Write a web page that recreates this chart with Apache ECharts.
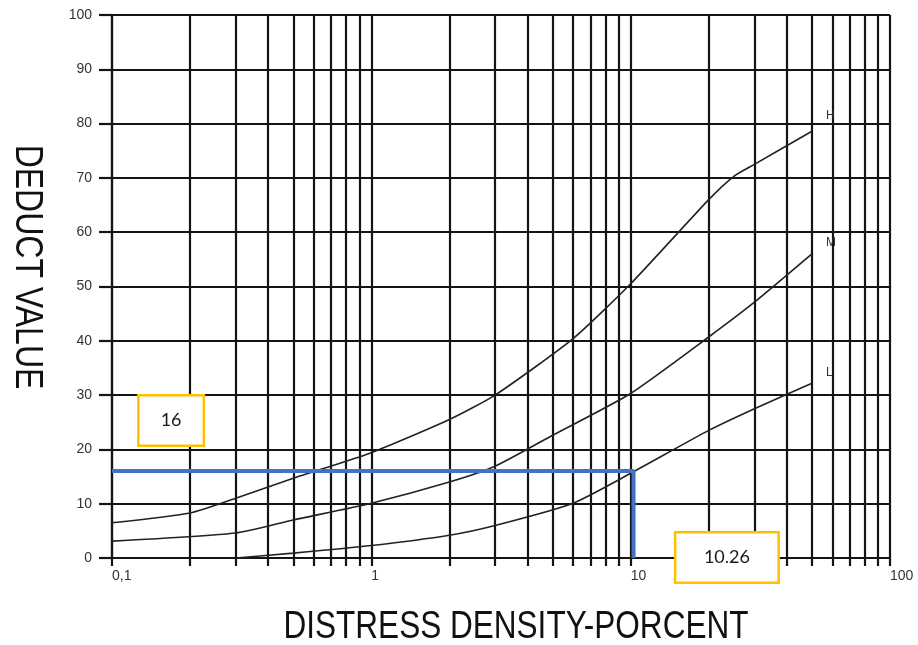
<!DOCTYPE html>
<html>
<head>
<meta charset="utf-8">
<title>Deduct value curves</title>
<script src="https://cdn.jsdelivr.net/npm/echarts@6/dist/echarts.min.js"></script>
<style>
  html, body { margin: 0; padding: 0; background: #fff; }
  #chart { width: 918px; height: 645px; }
</style>
</head>
<body>
<div id="chart"></div>
<script>
// Distress density (%) on a log axis, deduct value on a linear axis.
const DENSITY_H = [0.1, 0.2, 0.3, 0.5, 1, 2, 3, 6, 10, 20, 25, 30, 50];
const DEDUCT_H  = [6.5, 8.3, 11, 14.7, 19.4, 25.5, 30, 40.4, 50.5, 66, 70.3, 72.5, 78.6];

const DENSITY_M = [0.1, 0.3, 0.5, 1, 2, 3, 5, 10, 20, 30, 50];
const DEDUCT_M  = [3.1, 4.6, 7, 10.1, 14, 16.9, 22.6, 30.3, 40.7, 47.1, 56];

const DENSITY_L = [0.3, 0.5, 1, 2, 3, 6, 10, 20, 30, 50];
const DEDUCT_L  = [0, 0.9, 2.3, 4.2, 6, 10.1, 15.6, 23.5, 27.5, 32.2];

// Reading taken from the L curve
const CUT_DENSITY = 10.26;
const CUT_VALUE = 16;

// Log grid: 1..9 in every decade
const X_GRID_TICKS = [
  0.1, 0.2, 0.3, 0.4, 0.5, 0.6, 0.7, 0.8, 0.9,
  1, 2, 3, 4, 5, 6, 7, 8, 9,
  10, 20, 30, 40, 50, 60, 70, 80, 90,
  100
];
const X_LABEL_TICKS = [0.1, 1, 10, 100];
const Y_TICKS = [0, 10, 20, 30, 40, 50, 60, 70, 80, 90, 100];

const zip = (xs, ys) => xs.map((x, i) => [x, ys[i]]);

const gridColor = '#141414';
const curveStyle = { color: '#222', width: 1.6 };
const tickFont = 'Liberation Sans, Arial, sans-serif';

const chart = echarts.init(document.getElementById('chart'), null, { renderer: 'canvas' });

const curveLabel = (dy) => ({
  show: true, formatter: '{a}', offset: [6, dy], fontSize: 12,
  fontFamily: tickFont, color: '#333'
});

chart.setOption({
  backgroundColor: '#ffffff',
  animation: false,
  grid: { left: 112, right: 28, top: 15, bottom: 87, containLabel: false },
  xAxis: {
    type: 'log',
    logBase: 10,
    min: 0.1,
    max: 100,
    axisLine: { show: true, lineStyle: { color: gridColor, width: 2.2 } },
    axisTick: {
      show: true,
      customValues: X_GRID_TICKS,
      length: 8,
      lineStyle: { color: gridColor, width: 2.2 }
    },
    axisLabel: {
      show: true,
      customValues: X_LABEL_TICKS,
      align: 'left',
      margin: 11,
      fontSize: 14,
      fontFamily: tickFont,
      color: '#333',
      formatter: v => (Math.abs(v - 0.1) < 1e-9 ? '0,1' : String(Math.round(v)))
    },
    splitLine: { show: true, lineStyle: { color: gridColor, width: 2.2 } },
    minorTick: { show: false },
    minorSplitLine: { show: false }
  },
  yAxis: {
    type: 'value',
    min: Y_TICKS[0],
    max: Y_TICKS[Y_TICKS.length - 1],
    interval: 10,
    axisLine: { show: true, lineStyle: { color: gridColor, width: 2.2 } },
    axisTick: { show: true, length: 13, lineStyle: { color: gridColor, width: 2.2 } },
    axisLabel: {
      margin: 20,
      fontSize: 14,
      fontFamily: tickFont,
      color: '#333'
    },
    splitLine: { show: true, lineStyle: { color: gridColor, width: 2.2 } }
  },
  series: [
    {
      name: 'H', type: 'line', data: zip(DENSITY_H, DEDUCT_H),
      showSymbol: false, smooth: 0.2, lineStyle: curveStyle, z: 3,
      endLabel: curveLabel(-16)
    },
    {
      name: 'M', type: 'line', data: zip(DENSITY_M, DEDUCT_M),
      showSymbol: false, smooth: 0.2, lineStyle: curveStyle, z: 3,
      endLabel: curveLabel(-11)
    },
    {
      name: 'L', type: 'line', data: zip(DENSITY_L, DEDUCT_L),
      showSymbol: false, smooth: 0.2, lineStyle: curveStyle, z: 3,
      endLabel: curveLabel(-10)
    },
    {
      name: 'reading', type: 'line',
      data: [[X_GRID_TICKS[0], CUT_VALUE], [CUT_DENSITY, CUT_VALUE], [CUT_DENSITY, 0]],
      showSymbol: false, lineStyle: { color: '#4472C4', width: 4 }, z: 4
    },
    {
      // boxed call-outs for the reading
      name: 'callouts', type: 'scatter', z: 6,
      symbolSize: 1, itemStyle: { color: 'rgba(0,0,0,0)', opacity: 1 },
      silent: true,
      label: {
        show: true, position: 'inside', opacity: 1,
        formatter: p => p.data.text,
        backgroundColor: '#ffffff', borderColor: '#FFC000', borderWidth: 2.5,
        height: 48, lineHeight: 48, align: 'center', verticalAlign: 'middle',
        fontSize: 18, fontFamily: 'Lato, Liberation Sans, sans-serif', color: '#1a1a1a'
      },
      data: [
        { value: [0.169, 25.3], text: String(CUT_VALUE), label: { width: 63 } },
        { value: [23.5, 0.1], text: String(CUT_DENSITY), label: { width: 101 } }
      ]
    }
  ],
  graphic: [
    {
      type: 'text', x: 27, y: 267, rotation: -Math.PI / 2, scaleX: 0.82,
      style: {
        text: 'DEDUCT VALUE', align: 'center', verticalAlign: 'middle',
        font: '39px "Liberation Sans", Arial, sans-serif', fill: '#111'
      }
    },
    {
      type: 'text', x: 516, y: 628, scaleX: 0.83,
      style: {
        text: 'DISTRESS DENSITY-PORCENT', align: 'center', verticalAlign: 'middle',
        font: '38px "Liberation Sans", Arial, sans-serif', fill: '#111'
      }
    }
  ]
});
</script>
</body>
</html>
